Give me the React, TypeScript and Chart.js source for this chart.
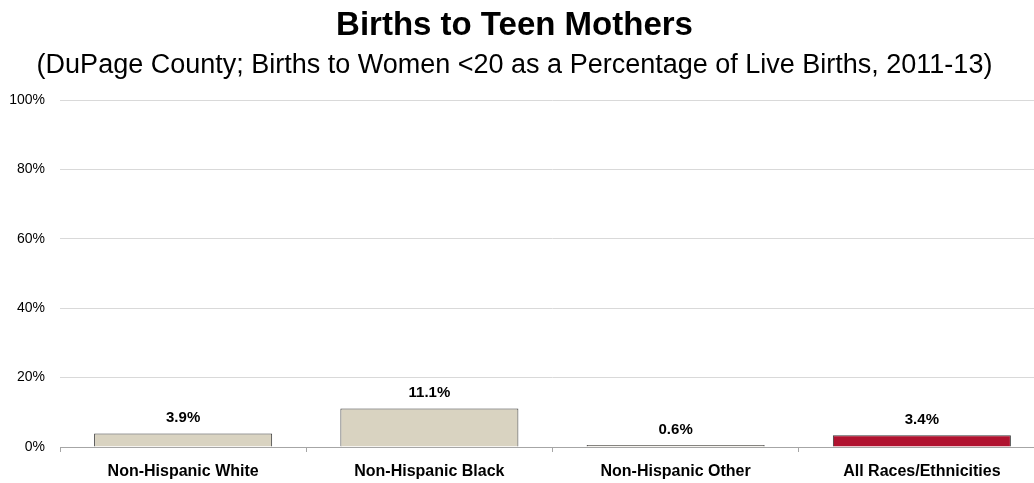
import React, { useEffect, useRef } from "react";
import { Chart, registerables } from "chart.js";

Chart.register(...registerables);

const categories = [
  "Non-Hispanic White",
  "Non-Hispanic Black",
  "Non-Hispanic Other",
  "All Races/Ethnicities",
];
const values = [3.9, 11.1, 0.6, 3.4];
const valueLabels = ["3.9%", "11.1%", "0.6%", "3.4%"];
const barColors = ["#d9d3c1", "#d9d3c1", "#d9d3c1", "#b0122f"];
const yTicks = [0, 20, 40, 60, 80, 100];

const FONT = '"Liberation Sans", Arial, sans-serif';

const dataLabelPlugin = {
  id: "dataLabels",
  afterDatasetsDraw(chart: any) {
    const ctx = chart.ctx;
    const meta = chart.getDatasetMeta(0);
    ctx.save();
    ctx.font = `bold 15px ${FONT}`;
    ctx.fillStyle = "#000";
    ctx.textAlign = "center";
    ctx.textBaseline = "alphabetic";
    meta.data.forEach((bar: any, i: number) => {
      ctx.fillText(valueLabels[i], bar.x, bar.y - 11);
    });
    ctx.restore();
  },
};

export default function App() {
  const canvasRef = useRef<HTMLCanvasElement | null>(null);

  useEffect(() => {
    if (!canvasRef.current) return;
    const chart = new Chart(canvasRef.current, {
      type: "bar",
      data: {
        labels: categories,
        datasets: [
          {
            data: values,
            backgroundColor: barColors,
            borderColor: "#3a3a3a",
            borderWidth: 1,
            barPercentage: 0.723,
            categoryPercentage: 1,
          },
        ],
      },
      options: {
        animation: false,
        responsive: true,
        maintainAspectRatio: false,
        layout: { padding: 0 },
        plugins: {
          legend: { display: false },
          tooltip: { enabled: false },
          title: {
            display: true,
            text: "Births to Teen Mothers",
            color: "#000",
            font: { family: FONT, size: 33, weight: "bold", lineHeight: 1.2 },
            padding: { top: 6.2, bottom: 0 },
          },
          subtitle: {
            display: true,
            text: "(DuPage County; Births to Women <20 as a Percentage of Live Births, 2011-13)",
            color: "#000",
            font: { family: FONT, size: 27, weight: "normal", lineHeight: 1.2 },
            padding: { top: 4, bottom: 17.8 },
          },
        },
        scales: {
          x: {
            grid: {
              display: true,
              drawOnChartArea: false,
              drawTicks: true,
              tickLength: 5,
              color: "#a6a6a6",
              offset: true,
            },
            border: { display: true, color: "#a6a6a6", width: 1 },
            ticks: {
              color: "#000",
              font: { family: FONT, size: 16, weight: "bold" },
              padding: 10,
              maxRotation: 0,
              autoSkip: false,
            },
            afterFit(scale: any) {
              scale.height = 36;
            },
          },
          y: {
            min: 0,
            max: 100,
            afterBuildTicks(scale: any) {
              scale.ticks = yTicks.map((v) => ({ value: v }));
            },
            grid: {
              color: "#d9d9d9",
              drawTicks: false,
            },
            border: { display: false },
            ticks: {
              color: "#000",
              font: { family: FONT, size: 14 },
              padding: 15,
              callback: (v: any) => `${v}%`,
            },
            afterFit(scale: any) {
              scale.width = 76;
            },
          },
        },
      },
      plugins: [dataLabelPlugin],
    });
    return () => chart.destroy();
  }, []);

  return (
    <div
      style={{
        position: "absolute",
        left: 0,
        top: 0,
        width: 1034,
        height: 483,
        overflow: "hidden",
        background: "#fff",
      }}
    >
      <div style={{ position: "absolute", left: -16, top: 0, width: 1061, height: 483 }}>
        <canvas ref={canvasRef} />
      </div>
    </div>
  );
}
